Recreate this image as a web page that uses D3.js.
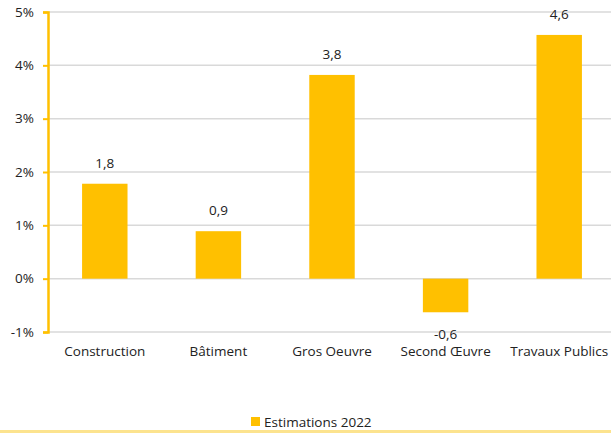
<html>
<head>
    <meta charset="utf-8">
    <script src="https://d3js.org/d3.v7.min.js"></script>
    <style>
        body { margin: 0; background: #fff; }
        text { font-family: "Open Sans", sans-serif; fill: #222; }
    </style>
</head>
<body>
    <div id="cont"></div>
    <script>
        var categories = ['Construction', 'Bâtiment', 'Gros Oeuvre', 'Second Œuvre', 'Travaux Publics'];
        var values = [1.78, 0.89, 3.82, -0.63, 4.57];
        var yTicks = [-1, 0, 1, 2, 3, 4, 5];
        var seriesName = 'Estimations 2022';

        (function() {
            var W = 611, H = 433,
                gold = '#FFC000',
                font = '"Open Sans", sans-serif',
                fs = 13.5,
                svg, x, y;

            svg = d3.select('#cont').append('svg')
                .attr('width', W)
                .attr('height', H);

            x = d3.scaleBand()
                .domain(categories)
                .range([48, 616])
                .paddingInner(0.6)
                .paddingOuter(0.3);

            y = d3.scaleLinear()
                .domain([-1, 5])
                .range([332, 12]);

            //grid
            svg.append('g')
                .selectAll('line')
                .data(yTicks)
                .enter()
                .append('line')
                .attr('x1', 48)
                .attr('x2', W)
                .attr('y1', function(d) { return y(d); })
                .attr('y2', function(d) { return y(d); })
                .attr('stroke', '#d9d9d9')
                .attr('stroke-width', 1.5);

            //bars
            svg.selectAll('rect.bar')
                .data(values)
                .enter()
                .append('rect')
                .attr('class', 'bar')
                .attr('x', function(d, i) { return x(categories[i]); })
                .attr('width', x.bandwidth())
                .attr('y', function(d) { return y(Math.max(d, 0)); })
                .attr('height', function(d) { return Math.abs(y(d) - y(0)); })
                .attr('fill', gold);

            //value labels
            var fmt = function(v) { return v.toFixed(1).replace('.', ','); };
            svg.selectAll('text.val')
                .data(values)
                .enter()
                .append('text')
                .attr('class', 'val')
                .attr('x', function(d, i) { return x(categories[i]) + x.bandwidth() / 2; })
                .attr('y', function(d) { return d >= 0 ? y(d) - 16 : y(d) + 27; })
                .attr('text-anchor', 'middle')
                .attr('font-size', fs)
                .text(fmt);

            //y axis
            var yAxis = d3.axisLeft(y)
                .tickValues(yTicks)
                .tickSize(5)
                .tickPadding(9)
                .tickFormat(function(d) { return d + '%'; });
            var ya = svg.append('g')
                .attr('transform', 'translate(48,0)')
                .call(yAxis);
            ya.select('.domain').attr('stroke', gold).attr('stroke-width', 2.5);
            ya.selectAll('.tick line').attr('stroke', gold).attr('stroke-width', 2);
            ya.selectAll('.tick text').attr('font-size', fs).attr('font-family', font).attr('fill', '#222');

            //category labels
            var xAxis = d3.axisBottom(x).tickSize(0).tickPadding(0);
            var xa = svg.append('g')
                .attr('transform', 'translate(0,346)')
                .call(xAxis);
            xa.select('.domain').remove();
            xa.selectAll('.tick text').attr('font-size', fs).attr('font-family', font).attr('fill', '#222');

            //legend
            svg.append('rect')
                .attr('x', 251).attr('y', 417)
                .attr('width', 9).attr('height', 9)
                .attr('fill', gold);
            svg.append('text')
                .attr('x', 264).attr('y', 427)
                .attr('font-size', fs)
                .text(seriesName);

            //bottom border
            svg.append('rect')
                .attr('x', 0).attr('y', 430)
                .attr('width', W).attr('height', 3)
                .attr('fill', '#FCE38E');
        })();
    </script>
</body>
</html>
